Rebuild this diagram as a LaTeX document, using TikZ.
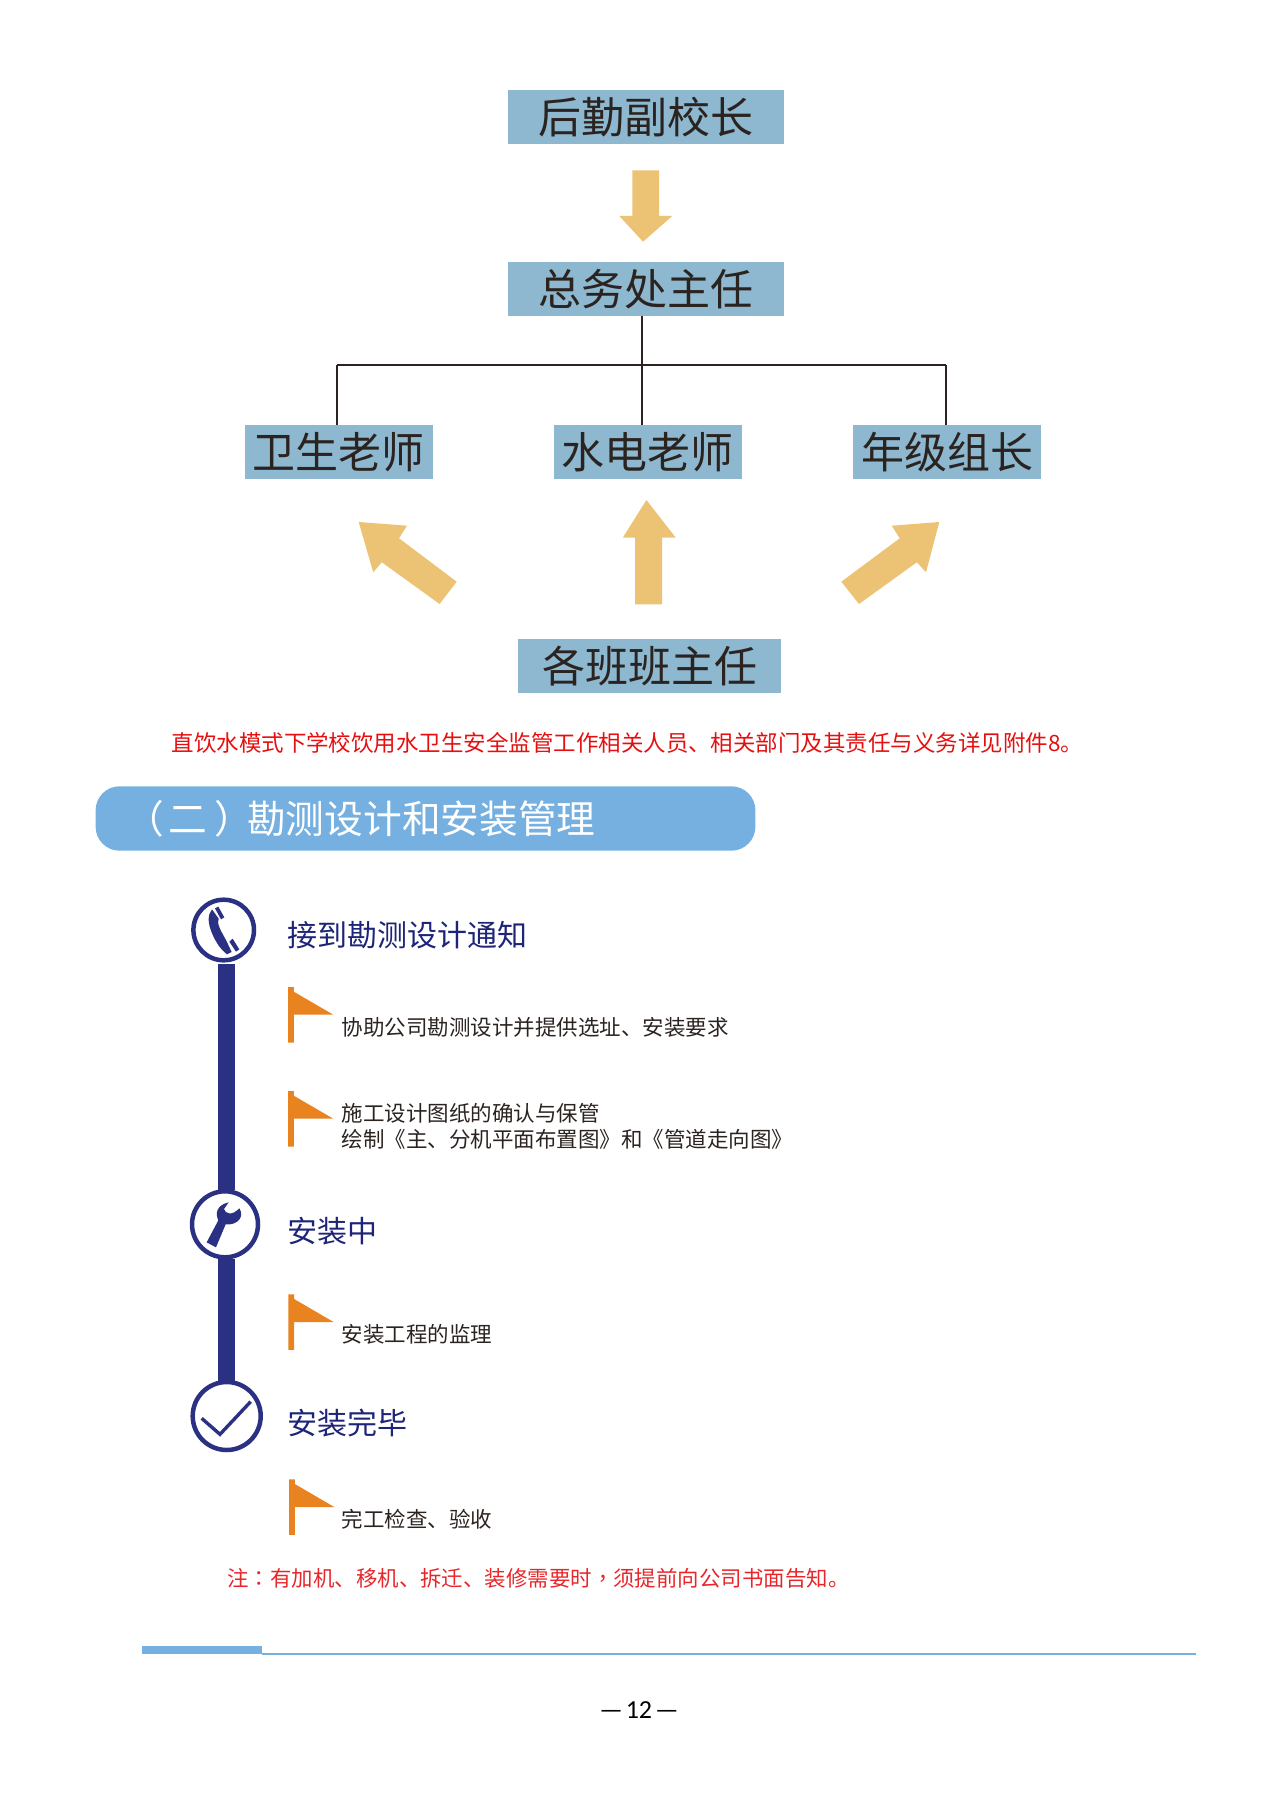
\documentclass[tikz,border=0pt]{standalone}
\usepackage{fontspec}
\setmainfont{Noto Sans CJK SC}
\newfontfamily\tcpunct{Noto Sans CJK TC}
\newfontfamily\pagefont{Carlito}
\definecolor{boxblue}{HTML}{8DB8CF}
\definecolor{inkdark}{HTML}{2B2320}
\definecolor{arrowgold}{HTML}{ECC374}
\definecolor{navybar}{HTML}{2B3182}
\definecolor{navytext}{HTML}{1E2478}
\definecolor{flagorange}{HTML}{E88320}
\definecolor{bannerblue}{HTML}{76B0E0}
\definecolor{redone}{HTML}{E60F0F}
\definecolor{redtwo}{HTML}{E8262A}
\newcommand{\fsz}[1]{\fontsize{#1pt}{#1pt}\selectfont}
\newcommand{\flagmark}[2]{%
  \fill[flagorange] (#1,#2) -- ++(5.8,0) -- ++(0,4.7) -- ++(39.5,23) -- ++(-39.5,0) -- ++(0,27.9) -- ++(-5.8,0) -- cycle;}
\tikzset{
  rolebox/.style={fill=boxblue,text=inkdark,inner sep=0pt,outer sep=0pt,minimum height=54pt,font=\fsz{43}},
  wide/.style={minimum width=276.5pt},
  mid/.style={minimum width=188pt},
  wider/.style={minimum width=263pt},
  orgline/.style={draw=inkdark,line width=1.8pt},
  fatarrow/.style={fill=arrowgold},
  stagecircle/.style={circle,draw=navybar,fill=white,line width=4.5pt,inner sep=0pt},
  stagebar/.style={draw=navybar,line width=16.7pt},
  stagetitle/.style={anchor=west,inner sep=0pt,text=navytext,font=\fsz{30},text height=25pt,text depth=4pt},
  stepnote/.style={anchor=west,inner sep=0pt,text=inkdark,font=\fsz{21.5},text height=18pt,text depth=3pt},
  rednote/.style={anchor=west,inner sep=0pt,text height=18pt,text depth=3pt,font=\fsz{21.45}},
  icon/.style={fill=navybar}
}
\begin{document}
\begin{tikzpicture}[x=1pt,y=-1pt]
\useasboundingbox (0,0) rectangle (1280,1811);
% org boxes
\node[rolebox,wide] (vp) at (646.2,116.9) {后勤副校长};
\node[rolebox,wide] (chief) at (646.2,289) {总务处主任};
\node[rolebox,mid] (hyg) at (338.8,452) {卫生老师};
\node[rolebox,mid] (elec) at (647.7,452) {水电老师};
\node[rolebox,mid] (grade) at (947,452) {年级组长};
\node[rolebox,wider] (cls) at (649.5,665.7) {各班班主任};
% connectors
\coordinate (jc) at (641.7,365);
\coordinate (jl) at (337.3,365);
\coordinate (jr) at (946.3,365);
\draw[orgline] (jl) -- (jr);
\draw[orgline] (chief.south -| jc) -- (jc) -- (elec.north -| jc);
\draw[orgline] (jl) -- (hyg.north -| jl);
\draw[orgline] (jr) -- (grade.north -| jr);
% fat arrows
\fill[fatarrow] (632.3,170.3) -- (659,170.3) -- (659,216) -- (672.3,216) -- (643,241.7) -- (619.3,216) -- (632.3,216) -- cycle;
\fill[fatarrow] (646.4,500) -- (675.8,537.7) -- (662,537.7) -- (662,604.3) -- (635,604.3) -- (635,537.7) -- (622.8,537.7) -- cycle;
\fill[fatarrow] (358.7,522) -- (407,525.7) -- (399,538.3) -- (456.7,581.7) -- (439.6,604) -- (381.8,562.3) -- (373.2,572.3) -- cycle;
\fill[fatarrow] (939.3,522) -- (891.7,525.7) -- (899.7,538.3) -- (841.3,581.7) -- (859,604) -- (916.8,562.3) -- (926,572.3) -- cycle;
% red line
\node[rednote,text=redone,font=\fsz{22.47}] (redline) at (171.5,743.7) {直饮水模式下学校饮用水卫生安全监管工作相关人员、相关部门及其责任与义务详见附件8。};
% banner
\node[fill=bannerblue,rounded corners=24pt,inner sep=0pt,minimum width=659.8pt,minimum height=64.4pt] (banner) at (425.5,818.5) {};
\node[anchor=west,inner sep=0pt,text=white,font=\fsz{38.7},text height=32pt,text depth=5pt] (bannertxt) at (125,820) {（\hspace{4.5pt}二\hspace{7pt}）\hspace{-5.6pt}勘测设计和安装管理};
% stages
\node[stagecircle,minimum size=60.6pt] (s1) at (223.7,930) {};
\node[stagecircle,minimum size=66pt] (s2) at (225,1224.3) {};
\node[stagecircle,minimum size=68pt] (s3) at (226.7,1416) {};
\coordinate (barx) at (226.3,0);
\draw[stagebar,shorten <=1.5pt,shorten >=-1pt] (s1.south -| barx) -- (s2.north -| barx);
\draw[stagebar,shorten <=-1pt,shorten >=-1pt] (s2.south -| barx) -- (s3.north -| barx);
% phone icon
\begin{scope}[shift={(180,890)},x=0.3333pt,y=-0.3333pt]
\fill[icon] (96,58) .. controls (82,75) and (83,100) .. (97,132) .. controls (109,160) and (124,180) .. (141,193) -- (155,186) -- (138,150) .. controls (120,118) and (110,100) .. (116,86) -- cycle;
\fill[icon] (105,55) -- (115,50) -- (133,82) -- (123,88) -- cycle;
\fill[icon] (148,155) -- (158,146) -- (178,178) -- (168,185) -- cycle;
\end{scope}
% wrench icon
\begin{scope}[shift={(180,1185)},x=0.3333pt,y=-0.3333pt]
\fill[icon] (80,172) -- (115,106) .. controls (105,85) and (110,60) .. (146,52) -- (132,72) .. controls (136,86) and (155,94) .. (178,70) .. controls (195,95) and (172,122) .. (137,118) -- (108,187) -- cycle;
\end{scope}
% check icon
\begin{scope}[shift={(150,1170)},x=0.3333pt,y=-0.3333pt]
\draw[navybar,line width=3.4pt] (155,745) -- (210,793) -- (302,695);
\end{scope}
% stage titles
\node[stagetitle] (t1) at (287,935.5) {接到勘测设计通知};
\node[stagetitle] (t2) at (287,1232) {安装中};
\node[stagetitle] (t3) at (287,1423.5) {安装完毕};
% flags
\flagmark{288}{987}
\flagmark{288}{1091}
\flagmark{288.3}{1294.3}
\flagmark{289}{1479.3}
% step notes
\node[stepnote] (n1) at (341.3,1028.2) {协助公司勘测设计并提供选址、安装要求};
\node[stepnote,align=left,font=\fontsize{21.5pt}{26pt}\selectfont,text height=,text depth=] (n2) at (341.3,1126) {施工设计图纸的确认与保管\\绘制《主、分机平面布置图》和《管道走向图》};
\node[stepnote] (n3) at (341.3,1335.2) {安装工程的监理};
\node[stepnote] (n4) at (341.3,1520.2) {完工检查、验收};
% note
\node[rednote,text=redtwo] (note) at (227.2,1578.7) {注{\tcpunct ：}有加机、移机、拆迁、装修需要时{\tcpunct ，}须提前向公司书面告知。};
% rule
\fill[bannerblue] (142,1646.3) rectangle (262.3,1654.3);
\fill[bannerblue] (262,1653) rectangle (1196,1654.5);
% page number
\node[inner sep=0pt,font=\pagefont\fsz{26},text=black] (pg) at (639,1710) {—\hspace{3pt}12\hspace{3pt}—};
\end{tikzpicture}
\end{document}
